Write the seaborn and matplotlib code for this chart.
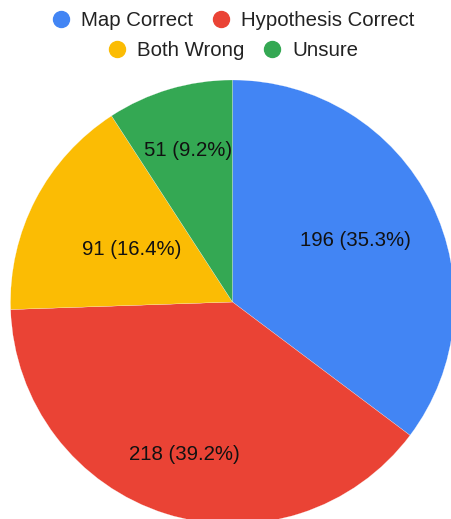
import matplotlib
matplotlib.use("Agg")
import matplotlib.pyplot as plt
from matplotlib.lines import Line2D
import numpy as np
import seaborn as sns

categories = ["Map Correct", "Hypothesis Correct", "Both Wrong", "Unsure"]
values = [196, 218, 91, 51]
colors = ["#4285F4", "#EA4335", "#FBBC04", "#34A853"]
label_dist = [0.62, 0.72, 0.51, 0.71]

sns.set_theme(style="white")
plt.rcParams["font.family"] = ["Liberation Sans", "DejaVu Sans"]

W, H = 452, 519
fig = plt.figure(figsize=(W / 100, H / 100), dpi=100)
cx, cy, r = 232.5, 302, 222
ax = fig.add_axes([(cx - r) / W, (H - cy - r) / H, 2 * r / W, 2 * r / H])

palette = sns.color_palette(colors)
wedges, _ = ax.pie(values, colors=palette, startangle=90, counterclock=False,
                   radius=1.0, wedgeprops=dict(edgecolor="white", linewidth=0.15))
ax.set_xlim(-1, 1)
ax.set_ylim(-1, 1)
ax.set_aspect("equal")
ax.axis("off")

total = sum(values)
for w, v, d in zip(wedges, values, label_dist):
    ang = np.deg2rad((w.theta1 + w.theta2) / 2)
    ax.text(d * np.cos(ang), d * np.sin(ang), f"{v} ({v / total * 100:.1f}%)",
            ha="center", va="center", fontsize=14.7, color="#111111")

def handles(idx):
    return [Line2D([0], [0], marker="o", linestyle="none", markersize=11.5,
                   markerfacecolor=palette[i], markeredgecolor=palette[i]) for i in idx]

common = dict(frameon=False, ncol=2, fontsize=14.7, handlelength=0.8,
              handletextpad=0.6, columnspacing=0.95, borderaxespad=0,
              borderpad=0, labelcolor="#222222")
leg1 = fig.legend(handles([0, 1]), categories[0:2], loc="center",
                  bbox_to_anchor=(233.5 / W, 1 - 21 / H), **common)
leg2 = fig.legend(handles([2, 3]), categories[2:4], loc="center",
                  bbox_to_anchor=(233.5 / W, 1 - 51 / H), **common)

fig.savefig("out.png", dpi=100)
